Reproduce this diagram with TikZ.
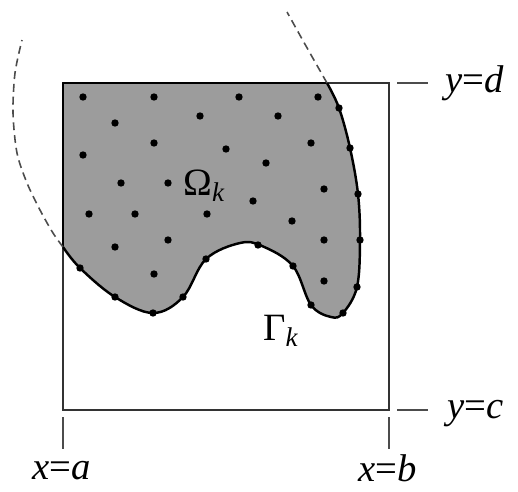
\documentclass[tikz,border=0pt]{standalone}
\usepackage{fontspec}
\setmainfont{Liberation Serif}
\usetikzlibrary{positioning}

\tikzset{
  bdry/.style={line width=1.4pt,line join=round},
  frame/.style={line width=0.8pt,black!80},
  guide/.style={line width=0.9pt,black!70,dash pattern=on 4.5pt off 2.8pt},
  tick/.style={line width=0.8pt,black!70},
  lbl/.style={inner sep=0pt,anchor=base west,font=\fontsize{22}{26}\selectfont}
}

\begin{document}
\begin{tikzpicture}[x=0.02cm,y=-0.02cm]
\useasboundingbox (0,0) rectangle (518,491);

% box
\coordinate (tl) at (63,83);
\coordinate (br) at (389,410);
\draw[frame] (tl) rectangle (br);

% the region
\fill[black!39] (tl) -- plot[smooth,tension=0.6] coordinates {(327,83) (339,108) (350,148) (358,194) (360,240) (357,287) (343,313) (331,317) (311,305) (293,266) (262,246) (240,243) (206,259) (183,297) (153,313) (115,297) (80,268) (63,247)} -- cycle;
\draw[bdry] (63,247) -- (tl) -- (327,83);
\draw[bdry] plot[smooth,tension=0.6] coordinates {(327,83) (339,108) (350,148) (358,194) (360,240) (357,287) (343,313) (331,317) (311,305) (293,266) (262,246) (240,243) (206,259) (183,297) (153,313) (115,297) (80,268) (63,247)};

% circle parts outside the box
\draw[guide] plot[smooth] coordinates {(63,247) (53,233) (40,210) (27,183) (17,153) (13,113) (15,73) (22,40)};
\draw[guide] plot[smooth] coordinates {(327,83) (306,46) (287,12)};

% points
\foreach \p in {(80,268),(115,297),(153,313),(183,297),(206,259),(258,245),(293,266),(311,305),(343,313),(357,287),(360,240),(358,194),(350,148),(339,108)}
  \fill \p circle[radius=2.1pt];
\foreach \p in {(83,97),(154,97),(239,97),(318,97),(115,123),(200,116),(278,116),(83,155),(154,143),(226,149),(311,143),(121,183),(168,183),(266,163),(324,189),(89,214),(135,214),(207,214),(253,201),(292,221),(115,247),(168,240),(324,240),(154,274),(324,281)}
  \fill \p circle[radius=2.1pt];

% ticks
\draw[tick] (397,83) -- (428,83);
\draw[tick] (397,410) -- (428,410);
\draw[tick] (63,417) -- (63,449);
\draw[tick] (389,417) -- (389,449);

\node[lbl] (yd) at (445,92) {\textit{y}=\textit{d}};
\node[lbl] (yc) at (447,418) {\textit{y}=\textit{c}};
\node[lbl] (xa) at (32,479) {\textit{x}=\textit{a}};
\node[lbl] (xb) at (358,481) {\textit{x}=\textit{b}};
\node[lbl] (om) at (183,195) {Ω\textsubscript{\textit{k}}};
\node[lbl] (ga) at (263,340) {Γ\textsubscript{\textit{k}}};
\end{tikzpicture}
\end{document}
